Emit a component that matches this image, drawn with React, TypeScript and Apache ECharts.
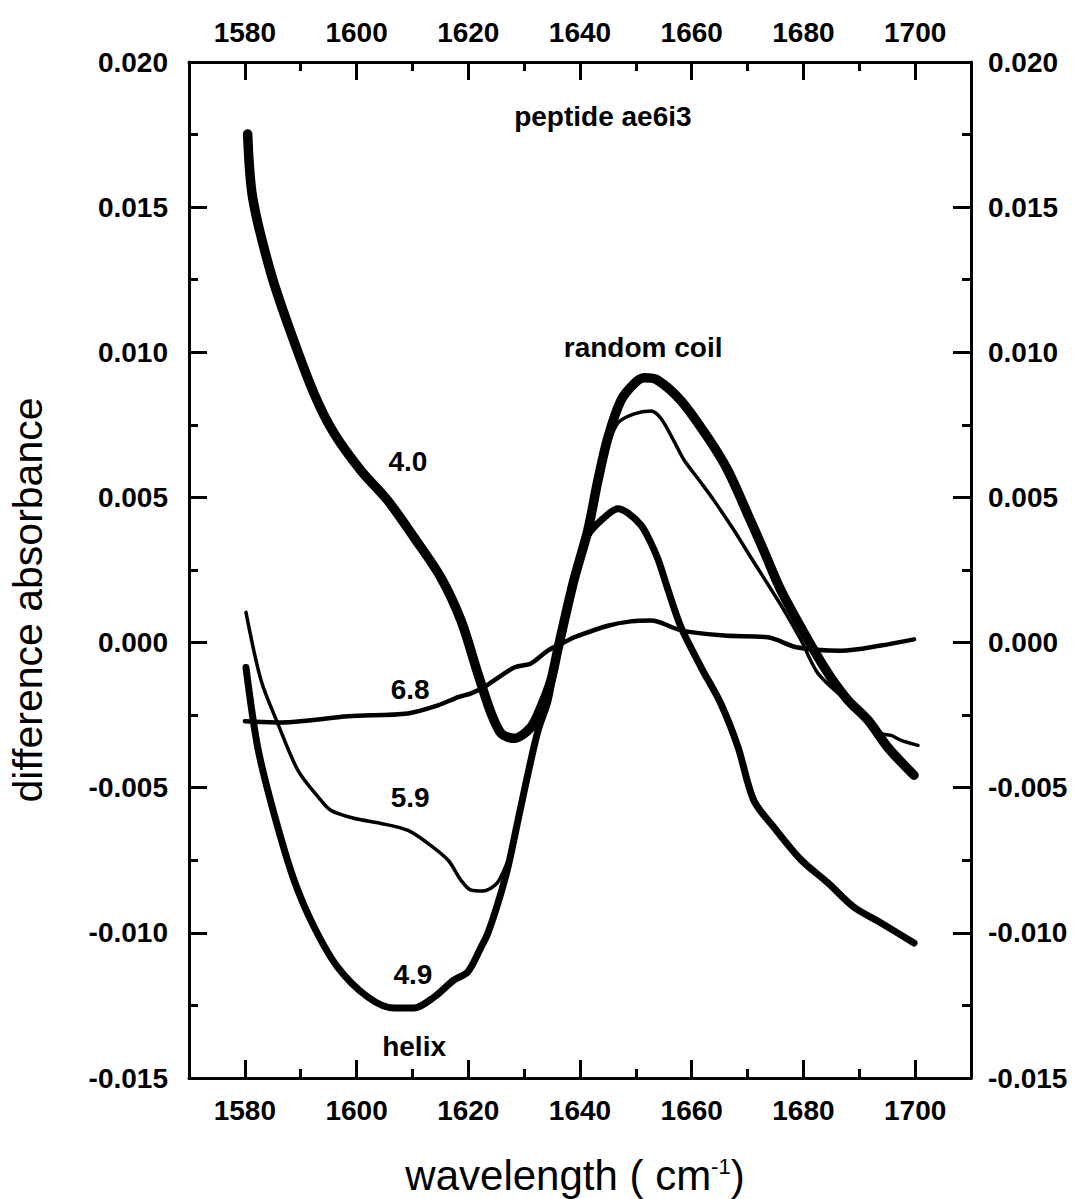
import React, { useEffect, useRef } from "react";
import * as echarts from "echarts";

// ---- axis ticks / labels ----
const xMajorTicks = [1580, 1600, 1620, 1640, 1660, 1680, 1700];
const xMinorTicks = [1590, 1610, 1630, 1650, 1670, 1690];
const xMin = 1570;
const xMax = 1710;
const yMin = -0.015;
const yMax = 0.02;
const yInterval = 0.005;

// ---- series: [wavenumber, difference absorbance] ----
const ph40: number[][] = [
  [1580.5, 0.01752], [1581.4, 0.01532], [1584.7, 0.0127], [1588.3, 0.01064],
  [1592.4, 0.00857], [1596.0, 0.0072], [1600.8, 0.00592], [1605.6, 0.00489],
  [1610.3, 0.00362], [1615.1, 0.00224], [1618.7, 0.00076], [1621.7, -0.00106],
  [1624.1, -0.00244], [1625.9, -0.00313], [1628.2, -0.0033], [1631.2, -0.00292],
  [1633.0, -0.00223], [1634.8, -0.0013], [1636.1, -0.00017], [1638.9, 0.00214],
  [1641.4, 0.00386], [1643.2, 0.00558], [1645.0, 0.00706], [1647.3, 0.00833],
  [1649.7, 0.00892], [1651.5, 0.00912], [1653.8, 0.00905], [1658.1, 0.00833],
  [1662.9, 0.00706], [1666.5, 0.00592], [1670.6, 0.00417], [1672.9, 0.00317],
  [1676.0, 0.00179], [1681.9, -0.00027], [1684.9, -0.0012], [1688.0, -0.00199],
  [1691.6, -0.00268], [1695.1, -0.00361], [1699.8, -0.00457],
];

const ph49: number[][] = [
  [1580.2, -0.00086], [1582.3, -0.00361], [1585.2, -0.00588], [1588.8, -0.00818],
  [1592.4, -0.0098], [1596.6, -0.01118], [1602.0, -0.01221], [1606.7, -0.01259],
  [1610.3, -0.01259], [1613.9, -0.01221], [1617.4, -0.01163], [1619.9, -0.01135],
  [1622.3, -0.01049], [1623.5, -0.01001], [1625.3, -0.00898], [1627.1, -0.00774],
  [1628.9, -0.00612], [1630.7, -0.0045], [1632.5, -0.00302], [1634.3, -0.00199],
  [1636.1, -0.00017], [1638.9, 0.00214], [1641.4, 0.00369], [1644.3, 0.0043],
  [1646.8, 0.00461], [1648.6, 0.00446], [1650.9, 0.00405], [1652.4, 0.00355],
  [1654.0, 0.00285], [1655.7, 0.00185], [1658.1, 0.00052],
  [1661.7, -0.00086], [1665.2, -0.0021], [1668.3, -0.00361], [1671.1, -0.00543],
  [1674.7, -0.00636], [1679.6, -0.00749], [1684.4, -0.00828], [1689.0, -0.00911],
  [1693.9, -0.00966], [1699.8, -0.01035],
];

const ph59: number[][] = [
  [1580.2, 0.00104], [1582.9, -0.0013], [1585.9, -0.00279], [1589.5, -0.0044],
  [1593.6, -0.00543], [1595.4, -0.00578], [1599.5, -0.00605], [1604.4, -0.00623],
  [1609.2, -0.00647], [1612.8, -0.00692], [1616.4, -0.0075], [1618.7, -0.00819],
  [1620.5, -0.00853], [1622.6, -0.00856], [1625.0, -0.00832], [1626.4, -0.00784],
  [1627.6, -0.00725], [1628.9, -0.00619], [1630.7, -0.00457], [1632.5, -0.0031],
  [1634.3, -0.00199], [1636.1, -0.00027], [1638.9, 0.00203], [1641.4, 0.00375],
  [1643.2, 0.0054], [1645.0, 0.00678], [1646.8, 0.00757], [1649.7, 0.00788],
  [1652.7, 0.00798], [1654.5, 0.00772], [1656.8, 0.00695], [1658.6, 0.0063],
  [1661.7, 0.0055], [1664.0, 0.00489], [1667.6, 0.00386], [1670.6, 0.00293],
  [1676.0, 0.00128], [1679.6, 0.00007], [1682.6, -0.00106], [1688.0, -0.00206],
  [1691.6, -0.00275], [1693.9, -0.00313], [1695.7, -0.0032], [1697.5, -0.00337],
  [1700.5, -0.00354],
];

const ph68: number[][] = [
  [1580.0, -0.00271], [1586.5, -0.00275], [1598.5, -0.00254], [1609.2, -0.00244],
  [1614.6, -0.00216], [1618.2, -0.00188], [1620.5, -0.00175], [1622.8, -0.00154],
  [1628.2, -0.00086], [1631.2, -0.00072], [1634.3, -0.00027], [1637.8, 0.00007],
  [1638.9, 0.00018], [1645.0, 0.00058], [1649.1, 0.00073], [1652.7, 0.00076],
  [1658.1, 0.00042], [1665.8, 0.00024], [1673.6, 0.00018], [1679.0, -0.00017],
  [1686.7, -0.00028], [1693.9, -0.0001], [1699.8, 0.00011],
];

// ---- annotations ----
const annotationLabels = ["peptide ae6i3", "random coil", "4.0", "6.8", "5.9", "4.9", "helix"];
const annotationX = [1644.1, 1651.3, 1609.2, 1609.6, 1609.6, 1610.1, 1610.3];
const annotationY = [0.01811, 0.01015, 0.00623, -0.00161, -0.00533, -0.01142, -0.01393];

const FONT = '"Liberation Sans", Arial, Helvetica, sans-serif';

function buildOption(): any {
  const tickLine = { color: "#000", width: 3 };
  const axisLine = { show: true, onZero: false, lineStyle: { color: "#000", width: 3 } };
  const labelStyle = { color: "#000", fontSize: 28, fontWeight: "bold", fontFamily: FONT };

  const xBase = {
    type: "value",
    min: xMin,
    max: xMax,
    gridIndex: 0,
    splitLine: { show: false },
  };

  const yBase = {
    type: "value",
    min: yMin,
    max: yMax,
    interval: yInterval,
    splitLine: { show: false },
    axisLine,
    axisTick: { show: true, inside: true, length: 18, lineStyle: tickLine },
    minorTick: { show: true, splitNumber: 2, length: 9, lineStyle: tickLine },
  };

  const lineSeries = (data: number[][], width: number) => ({
    type: "line",
    data,
    xAxisIndex: 0,
    yAxisIndex: 0,
    showSymbol: false,
    symbol: "none",
    smooth: 0.3,
    silent: true,
    lineStyle: { color: "#000", width, cap: "round", join: "round" },
    z: 3,
  });

  const xFmt = (v: number) => String(Math.round(v));

  return {
    animation: false,
    backgroundColor: "#fff",
    grid: { left: 189, top: 62, width: 782, height: 1016, containLabel: false },
    xAxis: [
      {
        ...xBase,
        position: "bottom",
        axisLine,
        axisTick: { show: true, inside: true, length: 18, lineStyle: tickLine, customValues: xMajorTicks },
        axisLabel: { ...labelStyle, margin: 18, customValues: xMajorTicks, formatter: xFmt },
      },
      {
        ...xBase,
        position: "top",
        axisLine,
        axisTick: { show: true, inside: true, length: 18, lineStyle: tickLine, customValues: xMajorTicks },
        axisLabel: { ...labelStyle, margin: 16, customValues: xMajorTicks, formatter: xFmt },
      },
      {
        ...xBase,
        position: "bottom",
        axisLine: { show: false, onZero: false },
        axisTick: { show: true, inside: true, length: 9, lineStyle: tickLine, customValues: xMinorTicks },
        axisLabel: { show: false },
      },
      {
        ...xBase,
        position: "top",
        axisLine: { show: false, onZero: false },
        axisTick: { show: true, inside: true, length: 9, lineStyle: tickLine, customValues: xMinorTicks },
        axisLabel: { show: false },
      },
    ],
    yAxis: [
      {
        ...yBase,
        position: "left",
        axisLabel: { ...labelStyle, margin: 21, formatter: (v: number) => v.toFixed(3) },
      },
      {
        ...yBase,
        position: "right",
        axisLabel: { ...labelStyle, margin: 17, formatter: (v: number) => v.toFixed(3) },
      },
    ],
    series: [
      lineSeries(ph68, 4.5),
      lineSeries(ph59, 3.5),
      lineSeries(ph49, 7),
      lineSeries(ph40, 9.5),
      {
        type: "scatter",
        xAxisIndex: 0,
        yAxisIndex: 0,
        silent: true,
        symbolSize: 1,
        itemStyle: { color: "rgba(0,0,0,0)", opacity: 1 },
        data: annotationLabels.map((name, i) => ({ name, value: [annotationX[i], annotationY[i]] })),
        label: {
          show: true,
          position: "inside",
          formatter: "{b}",
          color: "#000",
          opacity: 1,
          fontSize: 28,
          fontWeight: "bold",
          fontFamily: FONT,
        },
        z: 5,
      },
    ],
    graphic: [
      {
        type: "text",
        x: 28,
        y: 600,
        rotation: Math.PI / 2,
        style: {
          text: "difference absorbance",
          fontSize: 41,
          fontFamily: FONT,
          fill: "#000",
          textAlign: "center",
          textVerticalAlign: "middle",
        },
      },
      {
        type: "text",
        x: 575,
        y: 1175,
        style: {
          text: "{a|wavelength ( cm}{s|-1}{a|)}",
          textAlign: "center",
          textVerticalAlign: "middle",
          fill: "#000",
          rich: {
            a: { fontSize: 42, fontFamily: FONT, fill: "#000", lineHeight: 40 },
            s: { fontSize: 22, fontFamily: FONT, fill: "#000", verticalAlign: "top", lineHeight: 22 },
          },
        },
      },
    ],
  };
}

export default function App() {
  const ref = useRef<HTMLDivElement>(null);
  useEffect(() => {
    if (!ref.current) return;
    const chart = echarts.init(ref.current, null, { renderer: "svg" });
    chart.setOption(buildOption());
    return () => chart.dispose();
  }, []);
  return (
    <div
      ref={ref}
      style={{ position: "absolute", left: 0, top: 0, width: 1080, height: 1199, background: "#fff" }}
    />
  );
}
